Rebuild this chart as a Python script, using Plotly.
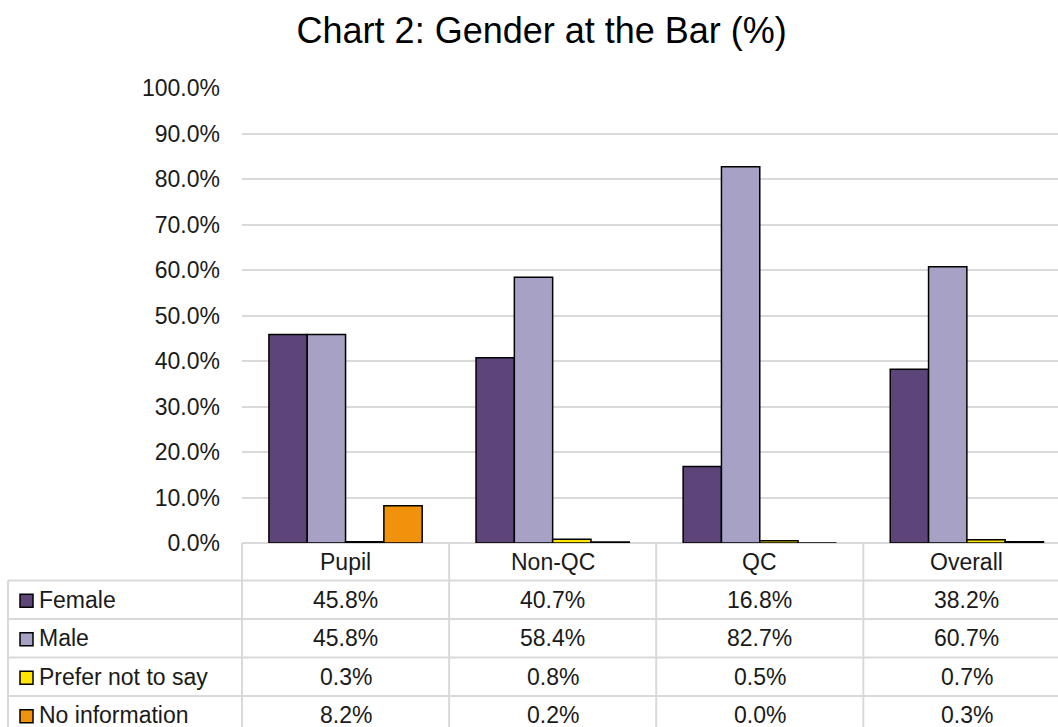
import plotly.graph_objects as go

# ---- data ----
categories = ["Pupil", "Non-QC", "QC", "Overall"]
series_names = ["Female", "Male", "Prefer not to say", "No information"]
female = [45.8, 40.7, 16.8, 38.2]
male = [45.8, 58.4, 82.7, 60.7]
prefer_not = [0.3, 0.8, 0.5, 0.7]
no_info = [8.2, 0.2, 0.0, 0.3]
tick_values = [0, 10, 20, 30, 40, 50, 60, 70, 80, 90, 100]
title_text = "Chart 2: Gender at the Bar (%)"

series_values = [female, male, prefer_not, no_info]
colors = ["#5D4479", "#A7A2C5", "#FFE500", "#F0920C"]

# ---- layout geometry (pixels) ----
W, H = 1058, 727
ML, MR, MT, MB = 242, 0, 88, 184
PW = W - ML - MR
PH = H - MT - MB
FONT = "Liberation Sans, Arial, sans-serif"
TXT = "#1a1a1a"
GRID = "#D9D9D9"
TSIZE = 23


def ypx(p):
    return (H - MB - p) / PH


def xpx(p):
    return (p - ML) / PW


fig = go.Figure()
for name, vals, col in zip(series_names, series_values, colors):
    fig.add_trace(go.Bar(
        name=name, x=categories, y=vals,
        marker=dict(color=col, line=dict(color="#000000", width=1.5)),
        showlegend=False,
    ))

# ---- data table (below plot) ----
row_lines = [580.5, 619, 657.5, 696, 734.5]
row_centers = [(row_lines[i] + row_lines[i + 1]) / 2 for i in range(4)]
header_center = (543 + 580.5) / 2
left_edge = 8

shapes = []
annotations = []
line_style = dict(color=GRID, width=2)
shapes.append(dict(type="line", xref="paper", yref="paper",
                   x0=0, x1=1, y0=ypx(543), y1=ypx(543), line=line_style, layer="below"))
for yl in row_lines:
    shapes.append(dict(type="line", xref="paper", yref="paper",
                       x0=xpx(left_edge), x1=1, y0=ypx(yl), y1=ypx(yl), line=line_style))
shapes.append(dict(type="line", xref="paper", yref="paper",
                   x0=0, x1=0, y0=ypx(543), y1=ypx(740), line=line_style))
shapes.append(dict(type="line", xref="paper", yref="paper",
                   x0=xpx(left_edge), x1=xpx(left_edge), y0=ypx(row_lines[0]), y1=ypx(740),
                   line=line_style))
for i in range(len(categories)):
    shapes.append(dict(type="line", xref="x", yref="paper",
                       x0=i + 0.5, x1=i + 0.5, y0=ypx(543), y1=ypx(740), line=line_style))

for c in categories:
    annotations.append(dict(x=c, y=ypx(header_center), xref="x", yref="paper",
                            text=c, showarrow=False, xanchor="center", yanchor="middle",
                            font=dict(family=FONT, size=TSIZE, color=TXT)))
sq = 13
for r, (name, vals, col) in enumerate(zip(series_names, series_values, colors)):
    yc = row_centers[r]
    shapes.append(dict(type="rect", xref="paper", yref="paper",
                       x0=xpx(20), x1=xpx(20 + sq), y0=ypx(yc - sq / 2 + 1), y1=ypx(yc + sq / 2 + 1),
                       fillcolor=col, line=dict(color="#000000", width=1.5)))
    annotations.append(dict(x=xpx(37), y=ypx(yc), xref="paper", yref="paper",
                            text=name, showarrow=False, xanchor="left", yanchor="middle",
                            font=dict(family=FONT, size=TSIZE, color=TXT)))
    for c, v in zip(categories, vals):
        annotations.append(dict(x=c, y=ypx(yc), xref="x", yref="paper",
                                text=f"{v:.1f}%", showarrow=False, xanchor="center", yanchor="middle",
                                font=dict(family=FONT, size=TSIZE, color=TXT)))

fig.update_layout(
    width=W, height=H,
    margin=dict(l=ML, r=MR, t=MT, b=MB, pad=0),
    paper_bgcolor="white", plot_bgcolor="white",
    barmode="group", bargap=0.26, bargroupgap=0,
    title=dict(text=title_text, x=0.512, xanchor="center", y=1 - 30 / H, yanchor="middle",
               xref="container", yref="container",
               font=dict(family=FONT, size=36, color="#000000")),
    xaxis=dict(range=[-0.5, 3.44], showticklabels=False, showgrid=False,
               zeroline=False, showline=False, ticks=""),
    yaxis=dict(range=[0, 100], tickvals=tick_values,
               ticktext=[f"{v:.1f}%" for v in tick_values],
               showgrid=True, gridcolor=GRID, gridwidth=2,
               zeroline=False, showline=False, ticks="",
               ticklabelstandoff=21,
               tickfont=dict(family=FONT, size=TSIZE, color=TXT)),
    shapes=shapes,
    annotations=annotations,
)

fig.write_html("out.html", config={"displayModeBar": False},
               post_script="document.body.style.margin='0';document.body.style.overflow='hidden';")
